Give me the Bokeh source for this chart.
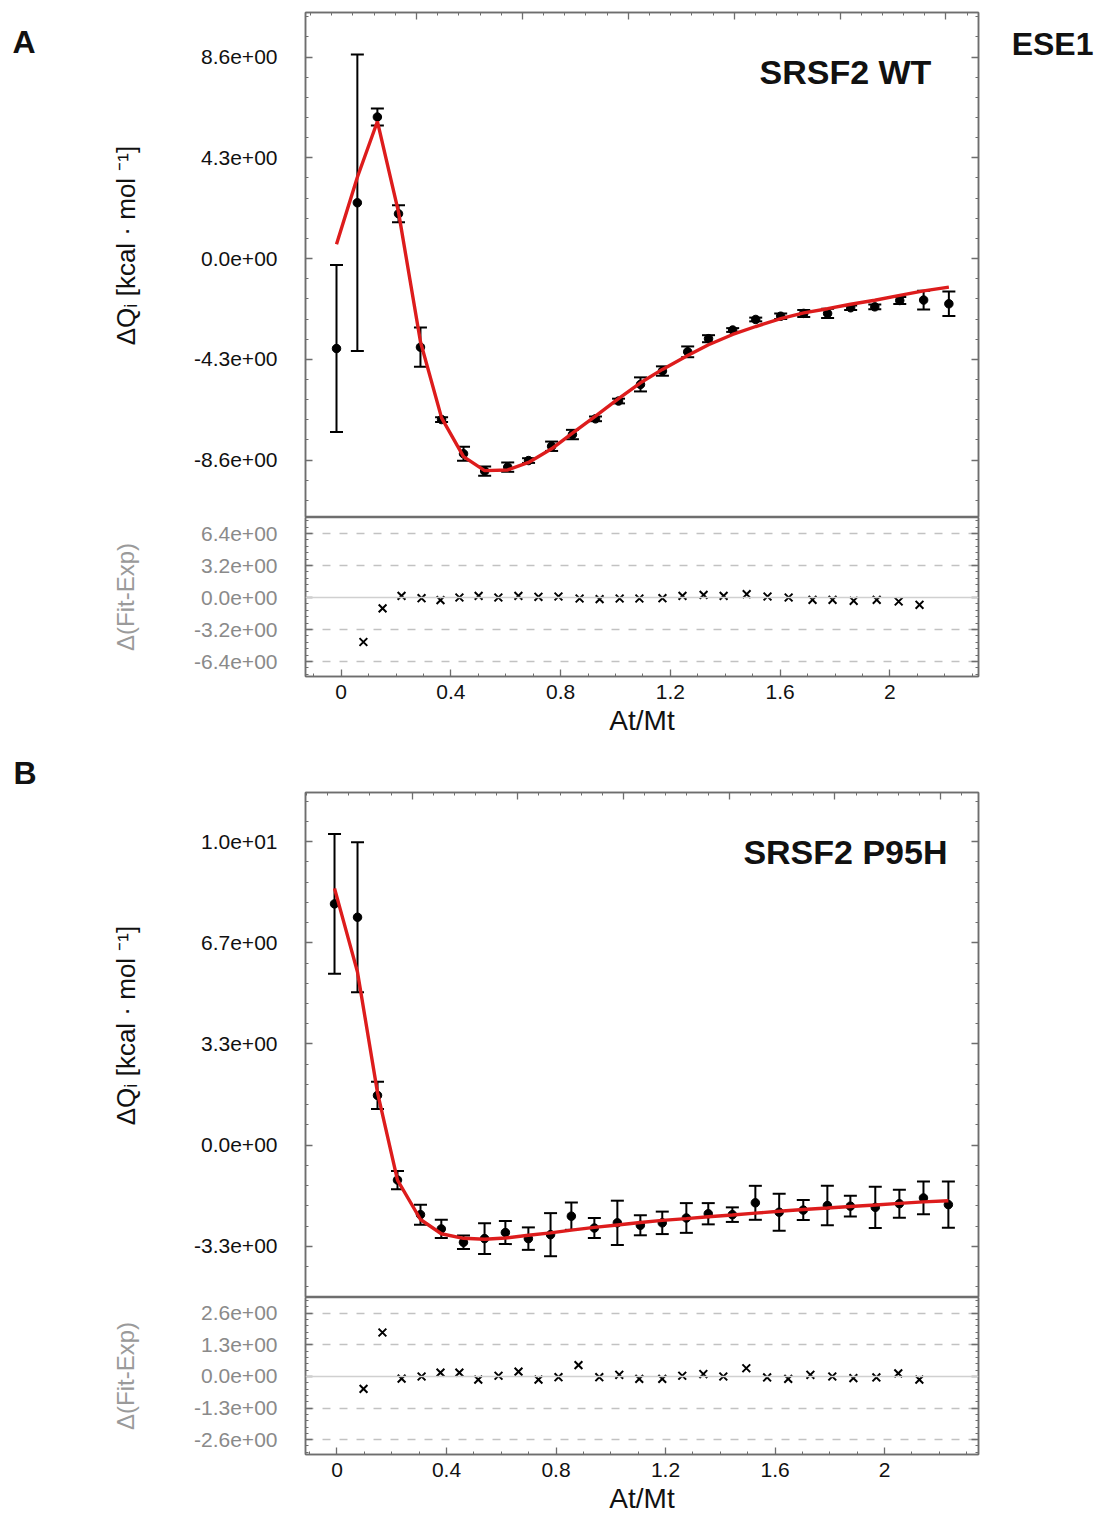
from bokeh.plotting import figure
from bokeh.models import (ColumnDataSource, Whisker, TeeHead, FixedTicker, LinearAxis,
                          Range1d, Span, Label, CustomJSTickFormatter)
from bokeh.layouts import column
from bokeh.embed import file_html
from bokeh.resources import INLINE

# ---------------- data ----------------
wt_x = [-0.017, 0.059, 0.132, 0.209, 0.289, 0.366, 0.446, 0.523, 0.607, 0.683, 0.767, 0.843, 0.927, 1.011,
        1.091, 1.171, 1.263, 1.339, 1.427, 1.511, 1.602, 1.686, 1.773, 1.857, 1.945, 2.036, 2.123, 2.215]
wt_y = [-3.84, 2.38, 6.04, 1.91, -3.78, -6.87, -8.33, -9.07, -8.90, -8.62, -8.01, -7.51, -6.84, -6.08,
        -5.37, -4.80, -3.98, -3.42, -3.05, -2.60, -2.46, -2.34, -2.34, -2.10, -2.06, -1.79, -1.77, -1.93]
wt_err = [3.56, 6.33, 0.36, 0.36, 0.84, 0.10, 0.30, 0.20, 0.20, 0.10, 0.20, 0.20, 0.10, 0.10,
          0.30, 0.20, 0.23, 0.15, 0.08, 0.08, 0.12, 0.15, 0.20, 0.10, 0.10, 0.15, 0.40, 0.52]
wt_fit = [0.61, 3.47, 5.85, 1.98, -3.55, -6.80, -8.45, -9.05, -9.02, -8.70, -8.12, -7.45, -6.72, -5.98,
          -5.30, -4.73, -4.14, -3.68, -3.24, -2.90, -2.56, -2.32, -2.14, -1.95, -1.78, -1.57, -1.38, -1.22]
wt_res_x = [0.081, 0.151, 0.220, 0.293, 0.362, 0.431, 0.501, 0.573, 0.646, 0.719, 0.792, 0.869, 0.942, 1.015,
            1.087, 1.171, 1.244, 1.321, 1.394, 1.478, 1.554, 1.631, 1.718, 1.791, 1.868, 1.952, 2.032, 2.108]
wt_res = [-4.45, -1.09, 0.16, -0.07, -0.26, 0.00, 0.16, 0.00, 0.16, 0.07, 0.10, -0.10, -0.16, -0.10,
          -0.10, -0.07, 0.16, 0.26, 0.16, 0.33, 0.10, 0.00, -0.23, -0.23, -0.33, -0.23, -0.40, -0.73]

ph_x = [-0.009, 0.075, 0.148, 0.221, 0.305, 0.381, 0.462, 0.539, 0.615, 0.699, 0.780, 0.856, 0.940, 1.024,
        1.108, 1.188, 1.276, 1.356, 1.444, 1.528, 1.615, 1.703, 1.791, 1.875, 1.966, 2.054, 2.142, 2.233]
ph_y = [7.95, 7.51, 1.64, -1.15, -2.29, -2.76, -3.20, -3.08, -2.88, -3.08, -2.95, -2.34, -2.73, -2.56,
        -2.64, -2.56, -2.40, -2.26, -2.29, -1.90, -2.21, -2.14, -1.99, -2.01, -2.05, -1.93, -1.74, -1.96]
ph_err = [2.30, 2.47, 0.45, 0.30, 0.33, 0.30, 0.22, 0.51, 0.38, 0.37, 0.71, 0.45, 0.33, 0.73,
          0.33, 0.37, 0.49, 0.35, 0.24, 0.56, 0.61, 0.33, 0.65, 0.34, 0.68, 0.46, 0.54, 0.76]
ph_fit = [8.46, 5.70, 1.73, -1.15, -2.45, -2.92, -3.07, -3.10, -3.06, -2.97, -2.89, -2.80, -2.71, -2.63,
          -2.55, -2.48, -2.42, -2.36, -2.30, -2.24, -2.18, -2.12, -2.07, -2.02, -1.97, -1.92, -1.87, -1.83]
ph_res_x = [0.097, 0.166, 0.236, 0.309, 0.378, 0.447, 0.516, 0.590, 0.663, 0.736, 0.809, 0.882, 0.958, 1.031,
            1.104, 1.188, 1.261, 1.338, 1.411, 1.495, 1.571, 1.648, 1.729, 1.809, 1.886, 1.970, 2.050, 2.127]
ph_res = [-0.51, 1.81, -0.09, 0.00, 0.16, 0.16, -0.13, 0.03, 0.20, -0.13, -0.03, 0.47, -0.03, 0.07,
          -0.10, -0.10, 0.03, 0.10, 0.00, 0.34, -0.04, -0.10, 0.07, 0.00, -0.07, -0.04, 0.13, -0.13]

x_ticks = [0, 0.4, 0.8, 1.2, 1.6, 2.0]
wt_yticks = [-8.6, -4.3, 0.0, 4.3, 8.6]
wt_rticks = [-6.4, -3.2, 0.0, 3.2, 6.4]
ph_yticks = [-10 / 3, 0.0, 10 / 3, 20 / 3, 10.0]
ph_rticks = [-2.6, -1.3, 0.0, 1.3, 2.6]

panel_labels = ["A", "B"]
titles = ["SRSF2 WT", "SRSF2 P95H"]
corner_label = "ESE1"
y_label = "\u2002\u2002\u2002ΔQᵢ [kcal · mol ⁻¹]"
r_label = "Δ(Fit-Exp)"
x_label = "At/Mt"

# ---------------- styling helpers ----------------
FONT = "Liberation Sans"
AX = "#6e6e6e"
W = 1099
LEFT, RIGHT = 305, 121

exp_fmt = CustomJSTickFormatter(code="""
const s = tick.toExponential(1);
const m = s.match(/^(-?[0-9.]+)e([+-])([0-9]+)$/);
if (!m) { return s; }
let e = m[3];
if (e.length < 2) { e = '0' + e; }
return m[1] + 'e' + m[2] + e;
""")
x_fmt = CustomJSTickFormatter(code="return String(Math.round(tick * 10) / 10);")
blank_fmt = CustomJSTickFormatter(code="return '';")


def minor_between(ticks, n, lo, hi):
    step = (ticks[1] - ticks[0]) / n
    out = []
    v = ticks[0]
    while v - step > lo:
        v -= step
    while v < hi:
        if all(abs(v - t) > step * 0.1 for t in ticks):
            out.append(v)
        v += step
    return out


def style_axis(ax, label_color="#111111", labels=True, size="21px"):
    ax.axis_line_color = AX
    ax.axis_line_width = 1.5
    ax.major_tick_line_color = AX
    ax.minor_tick_line_color = AX
    ax.major_tick_line_width = 1.3
    ax.minor_tick_line_width = 1.0
    ax.major_tick_in = 7
    ax.major_tick_out = 0
    ax.minor_tick_in = 3
    ax.minor_tick_out = 0
    ax.major_label_text_font = FONT
    ax.major_label_text_color = label_color
    if labels:
        ax.major_label_text_font_size = size
    else:
        ax.formatter = blank_fmt
        ax.major_label_text_font_size = "0px"
        ax.major_label_standoff = 0


def base_fig(height, top, bottom, xr, yr):
    p = figure(width=W, height=height, x_range=Range1d(*xr), y_range=Range1d(*yr),
               output_backend="svg", toolbar_location=None, title=None,
               min_border_left=LEFT, min_border_right=RIGHT,
               min_border_top=top, min_border_bottom=bottom,
               x_axis_location="above" if bottom == 0 else "below")
    p.outline_line_color = AX
    p.outline_line_width = 1.5
    p.outline_line_alpha = 1.0
    p.background_fill_color = "white"
    p.border_fill_color = "white"
    return p


def canvas_label(text, x, y, align="left"):
    return Label(x=x, y=y, x_units="canvas", y_units="canvas", text=text,
                 text_font=FONT, text_font_size="32px", text_font_style="bold",
                 text_align=align, text_baseline="top", text_color="#111111")


def main_panel(height, top, xr, yr, xs, ys, errs, fits, yticks, yminor_n, title, tpos, panel_letter, lpos, corner=None):
    p = base_fig(height, top, 0, xr, yr)
    p.grid.visible = False
    # top axis (ticks only)
    top_major = [0.2745 + k * 0.386 for k in range(6)]
    top_minor = minor_between(top_major, 5, xr[0], xr[1])
    p.xaxis.ticker = FixedTicker(ticks=top_major, minor_ticks=top_minor)
    for ax in p.xaxis:
        style_axis(ax, labels=False)
    ymin = minor_between(yticks, yminor_n, yr[0], yr[1])
    p.yaxis.ticker = FixedTicker(ticks=yticks, minor_ticks=ymin)
    p.yaxis.formatter = exp_fmt
    style_axis(p.yaxis[0])
    p.yaxis.axis_label = y_label
    p.yaxis.axis_label_text_font = FONT
    p.yaxis.axis_label_text_font_size = "26px"
    p.yaxis.axis_label_text_font_style = "normal"
    p.yaxis.axis_label_text_color = "#111111"
    p.yaxis.axis_label_standoff = 50
    p.yaxis.major_label_standoff = 28
    rax = LinearAxis(ticker=FixedTicker(ticks=yticks, minor_ticks=ymin))
    style_axis(rax, labels=False)
    p.add_layout(rax, "right")

    src = ColumnDataSource(dict(x=xs, y=ys,
                                lo=[a - b for a, b in zip(ys, errs)],
                                hi=[a + b for a, b in zip(ys, errs)]))
    wh = Whisker(base="x", upper="hi", lower="lo", source=src, line_color="black", line_width=2,
                 upper_head=TeeHead(size=13, line_width=2, line_color="black"),
                 lower_head=TeeHead(size=13, line_width=2, line_color="black"))
    p.add_layout(wh)
    p.scatter("x", "y", source=src, size=8.5, color="black")
    p.line(xs, fits, line_color="#dd1c1c", line_width=3.4)

    p.add_layout(Label(x=tpos[0], y=tpos[1], text=title, text_font=FONT, text_font_size="34px",
                       text_font_style="bold", text_align="center", text_baseline="middle",
                       text_color="#111111"))
    p.add_layout(canvas_label(panel_letter, lpos[0], lpos[1]), "left")
    if corner:
        p.add_layout(canvas_label(corner, 1093, lpos[1] + 2, align="right"), "right")
    return p


def resid_panel(height, bottom, xr, yr, rx, rv, rticks):
    p = base_fig(height, 0, bottom, xr, yr)
    p.xgrid.visible = False
    p.ygrid.ticker = FixedTicker(ticks=[t for t in rticks if t != 0])
    p.ygrid.grid_line_color = "#c2c2c2"
    p.ygrid.grid_line_dash = "8 9"
    p.ygrid.grid_line_width = 1.4
    p.add_layout(Span(location=0, dimension="width", line_color="#d0d0d0", line_width=1.6))

    xmin = minor_between(x_ticks, 4, xr[0], xr[1])
    p.xaxis.ticker = FixedTicker(ticks=x_ticks, minor_ticks=xmin)
    p.xaxis.formatter = x_fmt
    style_axis(p.xaxis[0])
    p.xaxis.major_label_standoff = 8
    p.xaxis.axis_label = x_label
    p.xaxis.axis_label_text_font = FONT
    p.xaxis.axis_label_text_font_size = "28px"
    p.xaxis.axis_label_text_font_style = "normal"
    p.xaxis.axis_label_text_color = "#111111"
    p.xaxis.axis_label_standoff = 3

    ymin = minor_between(rticks, 5, yr[0], yr[1])
    p.yaxis.ticker = FixedTicker(ticks=rticks, minor_ticks=ymin)
    p.yaxis.formatter = exp_fmt
    style_axis(p.yaxis[0], label_color="#8a8a8a")
    p.yaxis.major_label_standoff = 28
    p.yaxis.axis_label = r_label
    p.yaxis.axis_label_text_font = FONT
    p.yaxis.axis_label_text_font_size = "24px"
    p.yaxis.axis_label_text_font_style = "normal"
    p.yaxis.axis_label_text_color = "#9a9a9a"
    p.yaxis.axis_label_standoff = 52
    rax = LinearAxis(ticker=FixedTicker(ticks=rticks, minor_ticks=ymin))
    style_axis(rax, labels=False)
    p.add_layout(rax, "right")

    p.scatter(rx, rv, marker="x", size=11, line_width=2.0, color="black")
    return p


wt_xr = (-0.130, 2.323)
ph_xr = (-0.115, 2.343)

f1 = main_panel(517, 12, wt_xr, (-11.05, 10.50), wt_x, wt_y, wt_err, wt_fit, wt_yticks, 5,
                titles[0], (1.838, 7.94), panel_labels[0], (12, 23), corner=corner_label)
f2 = resid_panel(223, 64, wt_xr, (-7.9, 8.0), wt_res_x, wt_res, wt_rticks)
f3 = main_panel(557, 52, ph_xr, (-5.02, 11.62), ph_x, ph_y, ph_err, ph_fit, ph_yticks, 5,
                titles[1], (1.857, 9.67), panel_labels[1], (13, 14))
f4 = resid_panel(219, 60, ph_xr, (-3.21, 3.25), ph_res_x, ph_res, ph_rticks)

layout = column(f1, f2, f3, f4, spacing=0)
open("out.html", "w").write(file_html(layout, INLINE))
